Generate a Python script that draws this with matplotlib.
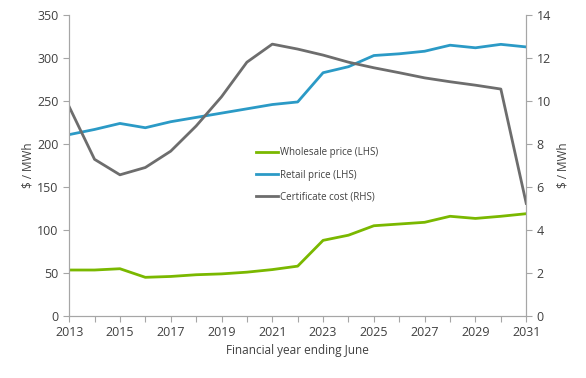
import numpy as np
import matplotlib
matplotlib.use('Agg')
import matplotlib.pyplot as plt
from matplotlib.ticker import MultipleLocator

plt.rcParams['font.family'] = ['Open Sans', 'DejaVu Sans']

# data
years = list(range(2013, 2032))
wholesale = [53.5, 53.5, 55, 45, 46, 48, 49, 51, 54, 58,
             88, 94, 105, 107, 109, 116, 113.5, 116, 119]
retail = [211, 217, 224, 219, 226, 231, 236, 241, 246, 249,
          283, 290, 303, 305, 308, 315, 312, 316, 313]
certificate = [9.74, 7.29, 6.57, 6.91, 7.67, 8.84, 10.2, 11.81, 12.65, 12.42,
               12.14, 11.81, 11.55, 11.32, 11.08, 10.9, 10.74, 10.56, 5.24]

green = '#7AB800'
blue = '#2B9AC6'
grey = '#6D6D6D'
axcol = '#A6A6A6'
txtcol = '#404040'

fig = plt.figure(figsize=(5.86, 3.78), dpi=100)
ax = fig.add_axes([0.118, 0.164, 0.780, 0.796])
ax2 = ax.twinx()

l1, = ax.plot(years, wholesale, color=green, lw=2, label='Wholesale price (LHS)')
l2, = ax.plot(years, retail, color=blue, lw=2, label='Retail price (LHS)')
l3, = ax2.plot(years, certificate, color=grey, lw=2, label='Certificate cost (RHS)')

ax.set_xlim(2013, 2031)
ax.set_ylim(0, 350)
ax2.set_ylim(0, 14)
ax.yaxis.set_major_locator(MultipleLocator(50))
ax2.yaxis.set_major_locator(MultipleLocator(2))
ax.set_xticks(years)
ax.set_xticklabels([str(y) if (y - 2013) % 2 == 0 else '' for y in years])

for a in (ax, ax2):
    a.spines['top'].set_visible(False)
    for s in ('left', 'right', 'bottom'):
        a.spines[s].set_color(axcol)
        a.spines[s].set_linewidth(0.8)
    a.tick_params(colors=axcol, labelcolor=txtcol, labelsize=9, length=4, width=0.8, direction='out')

ax.set_xlabel('Financial year ending June', fontsize=8.5, color=txtcol, labelpad=3)
ax.set_ylabel('$ / MWh', fontsize=8.5, color=txtcol, labelpad=2)
ax2.set_ylabel('$ / MWh', fontsize=8.5, color=txtcol, labelpad=4)

leg = fig.legend(handles=[l1, l2, l3], loc='upper left', bbox_to_anchor=(0.422, 0.633),
                 frameon=False, fontsize=7, handlelength=2.3, handletextpad=0.2,
                 labelspacing=1.15)
for t in leg.get_texts():
    t.set_color(txtcol)

fig.savefig('out.png', dpi=100)
